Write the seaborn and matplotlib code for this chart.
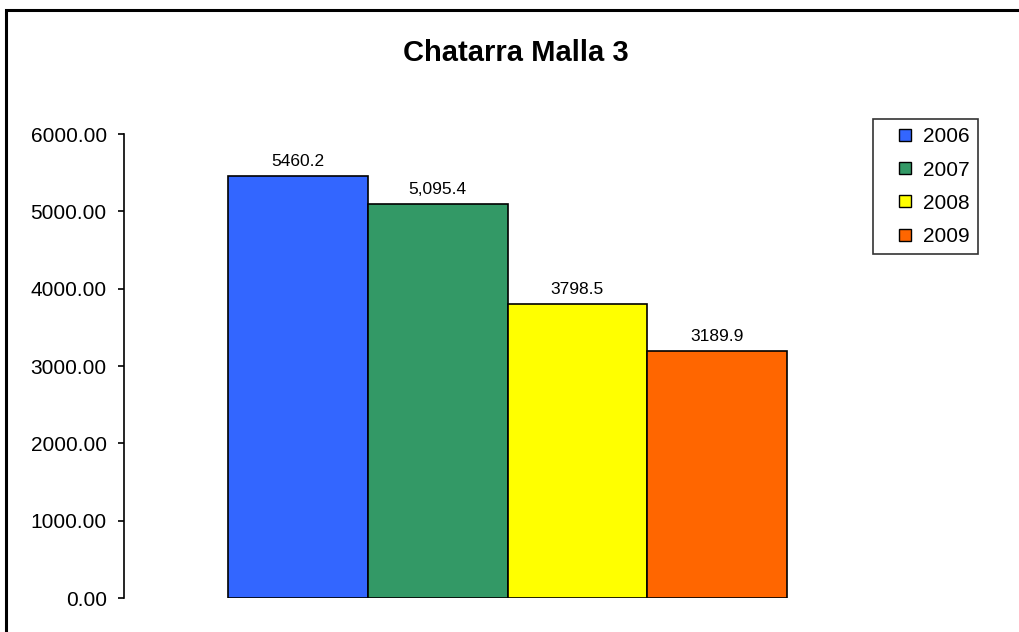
import matplotlib
matplotlib.use("Agg")
import matplotlib.pyplot as plt
from matplotlib.patches import Rectangle
from matplotlib.lines import Line2D
import seaborn as sns
import pandas as pd

# Data
years = ["2006", "2007", "2008", "2009"]
values = [5460.2, 5095.4, 3798.5, 3189.9]
value_labels = ["5460.2", "5,095.4", "3798.5", "3189.9"]
colors = ["#3366FF", "#339966", "#FFFF00", "#FF6600"]
yticks = [0, 1000, 2000, 3000, 4000, 5000, 6000]
title = "Chatarra Malla 3"

sns.set_theme(style="white")
plt.rcParams["font.family"] = ["Liberation Sans", "DejaVu Sans"]
plt.rcParams["text.color"] = "black"
plt.rcParams["axes.labelcolor"] = "black"
plt.rcParams["ytick.color"] = "black"
plt.rcParams["xtick.color"] = "black"

W, H = 1019, 632
fig = plt.figure(figsize=(W / 100, H / 100), dpi=100)
ax = fig.add_axes([124 / W, 1 - 598 / H, (891 - 124) / W, (598 - 134) / H])

df = pd.DataFrame({"year": years, "value": values})
sns.barplot(data=df, x="year", y="value", hue="year", palette=colors,
            width=1.0, edgecolor="black", linewidth=1.2, saturation=1,
            legend=False, ax=ax)

for cont, lab in zip(ax.containers, value_labels):
    ax.bar_label(cont, labels=[lab], padding=5, fontsize=12.5, color="black")

ax.set_xlim(-1.244, 4.244)
ax.set_ylim(0, 6000)
ax.set_yticks(yticks)
ax.set_yticklabels([f"{v:.2f}" for v in yticks], fontsize=15, color="black")
ax.set_xticks([])
ax.set_xlabel("")
ax.set_ylabel("")
ax.tick_params(axis="y", which="major", direction="out", length=4.5,
               width=1.2, color="black", labelcolor="black", pad=8, left=True)
for side in ["top", "right", "bottom"]:
    ax.spines[side].set_visible(False)
ax.spines["left"].set_color("black")
ax.spines["left"].set_linewidth(1.2)

# Legend with square markers
handles = [Line2D([], [], linestyle="none", marker="s", markersize=9,
                  markerfacecolor=c, markeredgecolor="black",
                  markeredgewidth=1.0) for c in colors]
leg = fig.legend(handles, years, loc="upper left",
                 bbox_to_anchor=(873 / W, 1 - 119 / H),
                 bbox_transform=fig.transFigure, borderaxespad=0,
                 fontsize=15, frameon=True, fancybox=False, shadow=False,
                 borderpad=0.4, labelspacing=0.68, handlelength=2.3,
                 handletextpad=-0.3, labelcolor="black")
leg.get_frame().set_edgecolor("black")
leg.get_frame().set_linewidth(1.2)
leg.get_frame().set_facecolor("white")

fig.text(516 / W, 1 - 53 / H, title, ha="center", va="center",
         fontsize=21, fontweight="bold", color="black")

# Outer chart frame
fig.patches.append(Rectangle((5.5 / W, -0.1), 1.2, 1 - 10 / H + 0.1,
                             transform=fig.transFigure, fill=False,
                             edgecolor="black", linewidth=2.2, clip_on=False))

fig.savefig("out.png", dpi=100)
